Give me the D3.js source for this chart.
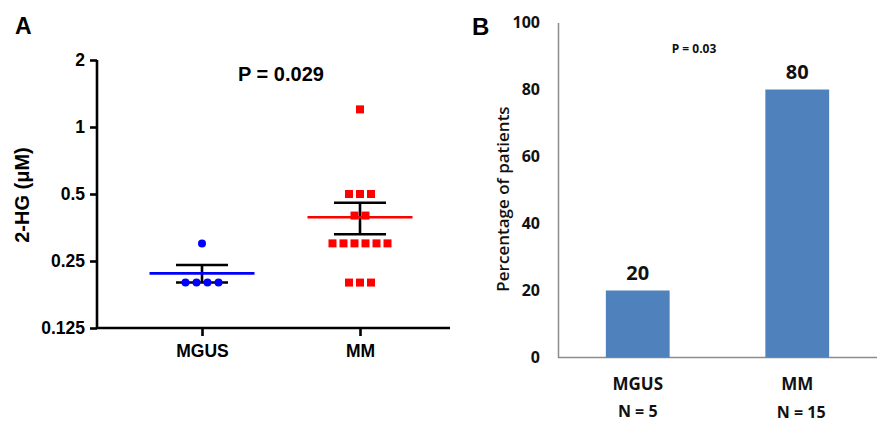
<!DOCTYPE html>
<html>
<head>
<meta charset="utf-8">
<script src="https://cdn.jsdelivr.net/npm/d3@7"></script>
<style>
  body { margin: 0; background: #fff; }
  svg { display: block; }
  .axA text { font-family: "Liberation Sans", Arial, sans-serif; font-weight: bold; }
  .axB text { font-family: "Open Sans", sans-serif; font-weight: bold; }
</style>
</head>
<body>
<div id="chart"></div>
<script>
// panel A: 2-HG values (uM) per patient
const groupsA = ['MGUS', 'MM'];
const mgusValues = [0.3, 0.2, 0.2, 0.2, 0.2];
const mmValues = [1.2, 0.5, 0.5, 0.5, 0.4, 0.4, 0.3, 0.3, 0.3, 0.3, 0.3, 0.3, 0.2, 0.2, 0.2];
const ticksA = [0.125, 0.25, 0.5, 1, 2];

// panel B: percentage of patients
const groupsB = ['MGUS', 'MM'];
const percentB = [20, 80];
const countsB = ['N = 5', 'N = 15'];
const ticksB = [0, 20, 40, 60, 80, 100];

const width = 882,
      height = 422;

const svg = d3.select('#chart').append('svg')
    .attr('width', width)
    .attr('height', height);

// ---------- panel A ----------
const yA = d3.scaleLog().base(2).domain([0.125, 2]).range([328, 60]);
const xA = d3.scalePoint().domain(groupsA).range([202, 360]);

const gA = svg.append('g').attr('class', 'axA');

gA.append('text')
    .attr('x', 15).attr('y', 34)
    .style('font-size', '23px')
    .text('A');

// y axis
gA.append('g')
    .attr('transform', 'translate(97,0)')
    .call(d3.axisLeft(yA).tickValues(ticksA).tickFormat(d3.format('')).tickSize(7).tickPadding(5))
    .call(g => g.selectAll('path, line').attr('stroke', '#000').attr('stroke-width', 2.6))
    .call(g => g.select('.domain').attr('d', 'M0,' + yA(2) + 'V' + yA(0.125)))
    .call(g => g.selectAll('text').attr('fill', '#000').style('font-size', '17.5px'));

// x axis
gA.append('line')
    .attr('x1', 97).attr('x2', 450)
    .attr('y1', yA(0.125)).attr('y2', yA(0.125))
    .attr('stroke', '#000').attr('stroke-width', 2.6);

gA.append('g')
    .attr('transform', 'translate(0,' + yA(0.125) + ')')
    .call(d3.axisBottom(xA).tickSize(8).tickPadding(9))
    .call(g => g.select('.domain').remove())
    .call(g => g.selectAll('line').attr('stroke', '#000').attr('stroke-width', 2.6))
    .call(g => g.selectAll('text').attr('fill', '#000').style('font-size', '17.5px'));

gA.append('text')
    .attr('transform', 'translate(29,195) rotate(-90)')
    .attr('text-anchor', 'middle')
    .style('font-size', '20px')
    .text('2-HG (\u03bcM)');

gA.append('text')
    .attr('x', 281).attr('y', 81)
    .attr('text-anchor', 'middle')
    .style('font-size', '20px')
    .text('P = 0.029');

// spread equal values side by side like a scatter dot plot
function spread(values, step) {
  const seen = {};
  const counts = d3.rollup(values, v => v.length, d => d);
  return values.map(v => {
    const i = seen[v] = (seen[v] === undefined ? 0 : seen[v] + 1);
    return { value: v, offset: (i - (counts.get(v) - 1) / 2) * step };
  });
}

function sem(values) {
  return d3.deviation(values) / Math.sqrt(values.length);
}

function drawGroup(name, values, color, shape) {
  const cx = xA(name);
  const m = d3.mean(values),
        s = sem(values);

  // error bar (mean +/- SEM)
  const eb = gA.append('g').attr('stroke', '#000').attr('stroke-width', 2.6);
  eb.append('line').attr('x1', cx).attr('x2', cx).attr('y1', yA(m + s)).attr('y2', yA(m - s));
  eb.append('line').attr('x1', cx - 26).attr('x2', cx + 26).attr('y1', yA(m + s)).attr('y2', yA(m + s));
  eb.append('line').attr('x1', cx - 26).attr('x2', cx + 26).attr('y1', yA(m - s)).attr('y2', yA(m - s));

  const pts = spread(values, 11);
  if (shape === 'circle') {
    gA.selectAll(null).data(pts).enter().append('circle')
        .attr('cx', d => cx + d.offset)
        .attr('cy', d => yA(d.value))
        .attr('r', 4)
        .attr('fill', color);
  } else {
    gA.selectAll(null).data(pts).enter().append('rect')
        .attr('x', d => cx + d.offset - 4)
        .attr('y', d => yA(d.value) - 4)
        .attr('width', 8).attr('height', 8)
        .attr('fill', color);
  }

  // mean line
  gA.append('line')
      .attr('x1', cx - 52.5).attr('x2', cx + 52.5)
      .attr('y1', yA(m)).attr('y2', yA(m))
      .attr('stroke', color).attr('stroke-width', 2.6);
}

drawGroup('MGUS', mgusValues, '#0000ff', 'circle');
drawGroup('MM', mmValues, '#ff0000', 'square');

// ---------- panel B ----------
const yB = d3.scaleLinear().domain([0, 100]).range([357.5, 22.5]);
const xB = d3.scaleBand().domain(groupsB).range([558, 877]).paddingInner(0.6).paddingOuter(0.3);

const gB = svg.append('g').attr('class', 'axB');

gB.append('text')
    .attr('x', 472).attr('y', 35)
    .style('font-family', '"Liberation Sans", Arial, sans-serif')
    .style('font-size', '24px')
    .text('B');

gB.append('g')
    .attr('transform', 'translate(558,0)')
    .call(d3.axisLeft(yB).tickValues(ticksB).tickSize(0).tickPadding(18))
    .call(g => g.select('.domain').attr('stroke', '#8c8c8c').attr('stroke-width', 1.5))
    .call(g => g.selectAll('text').attr('fill', '#111').style('font-size', '16px'));

gB.append('line')
    .attr('x1', 558).attr('x2', 877)
    .attr('y1', yB(0)).attr('y2', yB(0))
    .attr('stroke', '#8c8c8c').attr('stroke-width', 1.5);

gB.selectAll('.bar').data(percentB).enter().append('rect')
    .attr('class', 'bar')
    .attr('x', (d, i) => xB(groupsB[i]))
    .attr('y', d => yB(d))
    .attr('width', xB.bandwidth())
    .attr('height', d => yB(0) - yB(d))
    .attr('fill', '#4f81bd');

gB.selectAll('.val').data(percentB).enter().append('text')
    .attr('class', 'val')
    .attr('x', (d, i) => xB(groupsB[i]) + xB.bandwidth() / 2)
    .attr('y', d => yB(d) - 11)
    .attr('text-anchor', 'middle')
    .attr('fill', '#111')
    .style('font-size', '20px')
    .text(d => d);

gB.selectAll('.cat').data(groupsB).enter().append('text')
    .attr('class', 'cat')
    .attr('x', d => xB(d) + xB.bandwidth() / 2)
    .attr('y', 390)
    .attr('text-anchor', 'middle')
    .attr('fill', '#111')
    .style('font-size', '17px')
    .text(d => d);

gB.selectAll('.n').data(countsB).enter().append('text')
    .attr('class', 'n')
    .attr('x', (d, i) => xB(groupsB[i]) + xB.bandwidth() / 2 + (i ? 4 : 0))
    .attr('y', (d, i) => i ? 418 : 417)
    .attr('text-anchor', 'middle')
    .attr('fill', '#111')
    .style('font-size', '16px')
    .text(d => d);

gB.append('text')
    .attr('x', 694).attr('y', 53)
    .attr('text-anchor', 'middle')
    .attr('fill', '#111')
    .style('font-size', '12px')
    .text('P = 0.03');

gB.append('text')
    .attr('transform', 'translate(509,199) rotate(-90)')
    .attr('text-anchor', 'middle')
    .attr('fill', '#111')
    .style('font-size', '17px')
    .style('font-weight', '600')
    .text('Percentage of patients');
</script>
</body>
</html>
